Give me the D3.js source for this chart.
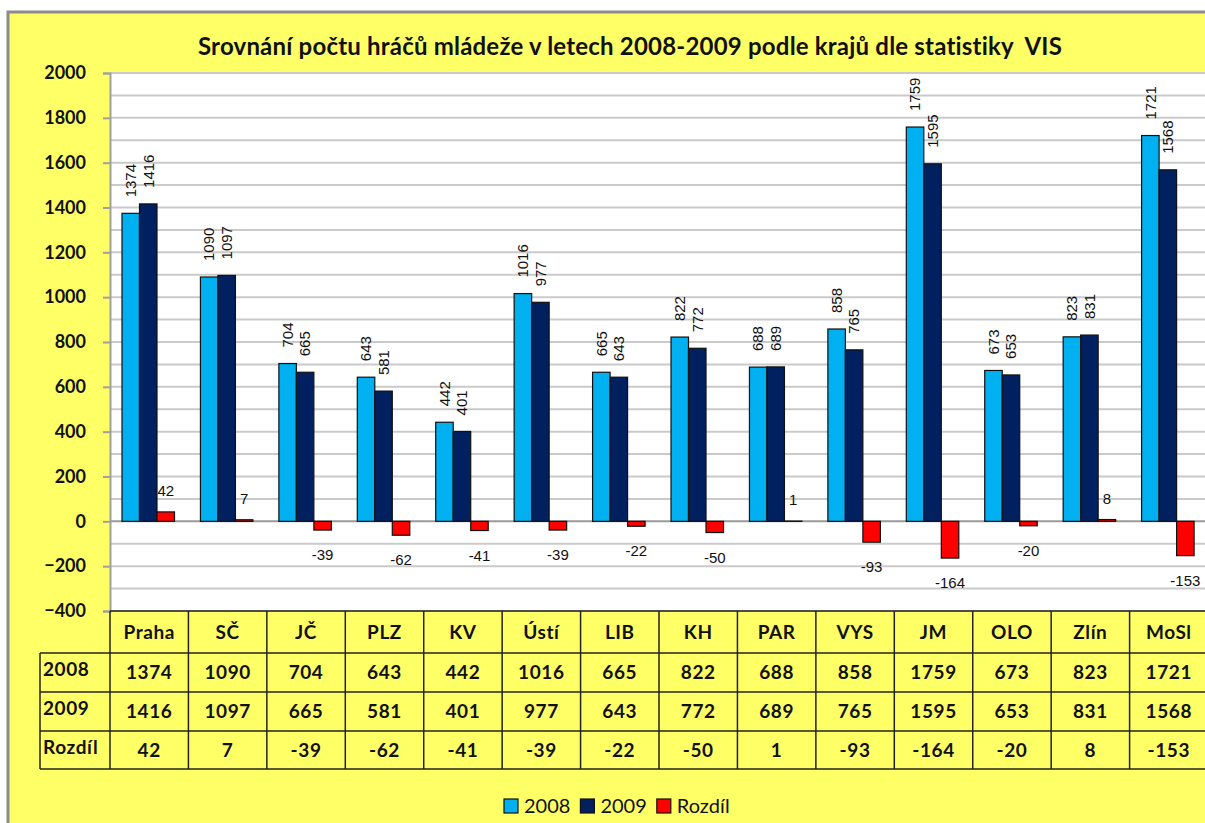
<!DOCTYPE html>
<html>
<head>
<meta charset="utf-8">
<script src="https://cdn.jsdelivr.net/npm/d3@7"></script>
<style>
  html, body { margin: 0; background: #fff; overflow: hidden; }
  svg { display: block; }
</style>
</head>
<body>
<div id="chart"></div>
<script>
// data
var categories = ['Praha','SČ','JČ','PLZ','KV','Ústí','LIB','KH','PAR','VYS','JM','OLO','Zlín','MoSl'];
var values2008 = [1374,1090,704,643,442,1016,665,822,688,858,1759,673,823,1721];
var values2009 = [1416,1097,665,581,401,977,643,772,689,765,1595,653,831,1568];
var valuesDiff = [42,7,-39,-62,-41,-39,-22,-50,1,-93,-164,-20,8,-153];
var seriesNames = ['2008','2009','Rozdíl'];
var seriesColors = ['#00B0F0','#002060','#FF0000'];
var yTicks = [-400,-200,0,200,400,600,800,1000,1200,1400,1600,1800,2000];
var gridTicks = d3.range(-400, 2001, 100);
var titleText = 'Srovnání počtu hráčů mládeže v letech 2008-2009 podle krajů dle statistiky  VIS';

var W = 1205, H = 823;
var plotLeft = 110, plotTop = 73, plotBottom = 611;
var bandW = 78.43;
var plotRight = plotLeft + bandW*categories.length;
var rowH = [653, 692, 731, 769];   // bottoms of header / 2008 / 2009 / Rozdíl rows
var labelLeft = 40;
var font = 'Lato, "Open Sans", sans-serif';
var labelFont = '"Liberation Sans", Arial, sans-serif';

var svg = d3.select('#chart').append('svg')
            .attr('width', W).attr('height', H);

// yellow frame, right and bottom sides run off the picture
svg.append('rect')
   .attr('x', 8).attr('y', 12).attr('width', W+40).attr('height', H+40)
   .style('fill', '#FFFF66').style('stroke', '#8C8C8C').style('stroke-width', 3);

var x = d3.scaleBand().domain(categories).range([plotLeft, plotRight]);
var xs = d3.scaleBand().domain(seriesNames).range([0, 52.5]);
var y = d3.scaleLinear().domain([-400, 2000]).range([plotBottom, plotTop]);

// plot area
svg.append('rect')
   .attr('x', plotLeft).attr('y', plotTop)
   .attr('width', plotRight-plotLeft).attr('height', plotBottom-plotTop)
   .style('fill', '#fff');

svg.append('g').selectAll('line').data(gridTicks).enter().append('line')
   .attr('x1', plotLeft).attr('x2', plotRight)
   .attr('y1', d => y(d)).attr('y2', d => y(d))
   .style('stroke', d => d === 0 ? '#9A9A9A' : '#CACACA')
   .style('stroke-width', 2);

// y axis
var yAxis = svg.append('g')
   .attr('transform', 'translate(' + plotLeft + ',0)')
   .call(d3.axisLeft(y).tickValues(yTicks).tickFormat(d3.format('d')).tickSize(7).tickPadding(17));
yAxis.select('.domain').style('stroke', '#A0A0A0').style('stroke-width', 2);
yAxis.selectAll('.tick line').style('stroke', '#A0A0A0').style('stroke-width', 2);
yAxis.selectAll('.tick text')
     .style('font-family', font).style('font-size', '18px').style('font-weight', 'bold')
     .style('fill', '#111');

// title
svg.append('text')
   .attr('x', 630).attr('y', 55)
   .attr('text-anchor', 'middle')
   .style('white-space', 'pre')
   .style('font-family', font).style('font-size', '24px').style('font-weight', 'bold')
   .style('letter-spacing', '0.2px')
   .style('fill', '#111')
   .text(titleText);

// bars
var seriesData = [values2008, values2009, valuesDiff];
var bars = [];
categories.forEach(function(c, i) {
	seriesData.forEach(function(vals, s) {
		bars.push({cat: c, s: s, name: seriesNames[s], v: vals[i]});
	});
});

var bx = function(d) { return x(d.cat) + 12 + xs(d.name); };

svg.append('g').selectAll('rect').data(bars).enter().append('rect')
   .attr('x', bx)
   .attr('y', d => y(Math.max(0, d.v)))
   .attr('width', xs.bandwidth())
   .attr('height', d => Math.abs(y(d.v) - y(0)))
   .style('fill', d => seriesColors[d.s])
   .style('stroke', '#111')
   .style('stroke-width', 1.2);

// rotated value labels for 2008 and 2009
svg.append('g').selectAll('text').data(bars.filter(d => d.s < 2)).enter().append('text')
   .attr('transform', d => 'translate(' + (bx(d) + xs.bandwidth()/2) + ',' + (y(d.v) - 16) + ') rotate(-90)')
   .attr('dy', '0.35em')
   .style('font-family', labelFont).style('font-size', '15px')
   .style('fill', '#111')
   .text(d => d.v);

// difference labels
svg.append('g').selectAll('text').data(bars.filter(d => d.s === 2)).enter().append('text')
   .attr('x', d => bx(d) + xs.bandwidth()/2)
   .attr('y', d => d.v >= 0 ? y(d.v) - 16 : y(d.v) + 30)
   .attr('text-anchor', 'middle')
   .style('font-family', labelFont).style('font-size', '15px')
   .style('fill', '#111')
   .text(d => d.v);

// data table
var table = svg.append('g');
var lineStyle = function(sel) { return sel.style('stroke', '#222').style('stroke-width', 1.5); };

table.append('line').attr('x1', plotLeft).attr('x2', plotRight)
     .attr('y1', plotBottom).attr('y2', plotBottom).call(lineStyle);
table.selectAll('.hline').data(rowH).enter().append('line')
     .attr('x1', labelLeft).attr('x2', plotRight)
     .attr('y1', d => d).attr('y2', d => d).call(lineStyle);
table.append('line').attr('x1', labelLeft).attr('x2', labelLeft)
     .attr('y1', rowH[0]).attr('y2', rowH[3]).call(lineStyle);
table.selectAll('.vline').data(categories).enter().append('line')
     .attr('x1', d => x(d)).attr('x2', d => x(d))
     .attr('y1', plotBottom).attr('y2', rowH[3]).call(lineStyle);

var rowCenters = [(plotBottom + rowH[0])/2, (rowH[0]+rowH[1])/2, (rowH[1]+rowH[2])/2, (rowH[2]+rowH[3])/2];
var cellText = function(sel) {
	return sel.attr('dy', '0.36em')
	          .style('font-family', font).style('font-size', '19px').style('font-weight', 'bold')
	          .style('letter-spacing', '0.6px')
	          .style('fill', '#111');
};

table.selectAll('.hdr').data(categories).enter().append('text')
     .attr('x', d => x(d) + bandW/2).attr('y', rowCenters[0])
     .attr('text-anchor', 'middle').call(cellText)
     .text(d => d);

seriesData.forEach(function(vals, s) {
	table.append('text')
	     .attr('x', labelLeft + 3).attr('y', rowCenters[s+1] - 3)
	     .call(cellText)
	     .text(seriesNames[s]);
	table.selectAll('.row' + s).data(vals).enter().append('text')
	     .attr('x', (d, i) => x(categories[i]) + bandW/2).attr('y', rowCenters[s+1])
	     .attr('text-anchor', 'middle').call(cellText)
	     .text(d => d);
});

// legend
var legend = svg.append('g');
var lx = 504;
seriesNames.forEach(function(name, s) {
	legend.append('rect')
	      .attr('x', lx).attr('y', 799).attr('width', 14).attr('height', 14)
	      .style('fill', seriesColors[s]).style('stroke', '#111').style('stroke-width', 1.2);
	var t = legend.append('text')
	      .attr('x', lx + 20).attr('y', 813)
	      .style('font-family', font).style('font-size', '20px')
	      .style('fill', '#111')
	      .text(name);
	lx += 20 + t.node().getComputedTextLength() + 10;
});
</script>
</body>
</html>
